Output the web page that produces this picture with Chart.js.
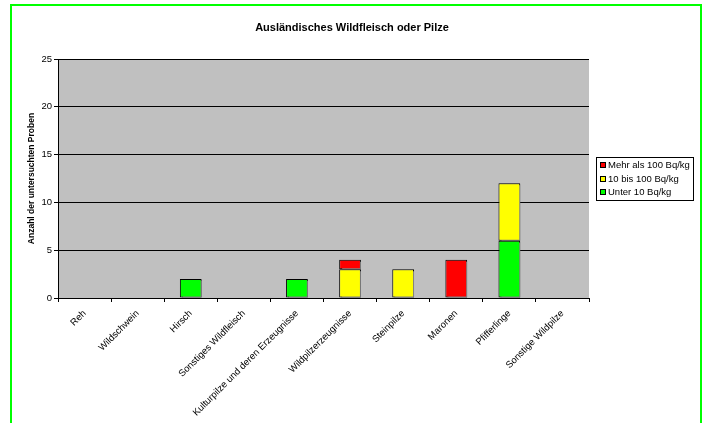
<!DOCTYPE html>
<html>
<head>
<meta charset="utf-8">
<script src="https://cdn.jsdelivr.net/npm/chart.js@4.4.1/dist/chart.umd.min.js"></script>
<style>
  body { margin: 0; background: #fff; }
  canvas { display: block; }
</style>
</head>
<body>
<canvas id="chart" width="704" height="423"></canvas>
<script>
  // Probenzahlen je Kategorie, gestapelt nach Aktivitaetsklasse
  var categories = ['Reh', 'Wildschwein', 'Hirsch', 'Sonstiges Wildfleisch',
    'Kulturpilze und deren Erzeugnisse', 'Wildpilzerzeugnisse', 'Steinpilze',
    'Maronen', 'Pfifferlinge', 'Sonstige Wildpilze'];
  var unter10 = [0, 0, 2, 0, 2, 0, 0, 0, 6, 0];
  var von10bis100 = [0, 0, 0, 0, 0, 3, 3, 0, 6, 0];
  var ueber100 = [0, 0, 0, 0, 0, 1, 0, 4, 0, 0];
  var yTicks = [0, 5, 10, 15, 20, 25];

  var FONT = "'Liberation Sans', Arial, sans-serif";
  Chart.defaults.font.family = FONT;
  Chart.defaults.color = '#000';

  // green frame round the whole chart + grey plot area
  var frame = {
    id: 'frame',
    beforeDraw: function (chart) {
      var ctx = chart.ctx, a = chart.chartArea;
      ctx.save();
      ctx.strokeStyle = '#00ff00';
      ctx.lineWidth = 2;
      ctx.strokeRect(11, 5, 690, 500);
      ctx.fillStyle = '#c0c0c0';
      ctx.fillRect(a.left, a.top, a.right - a.left, a.bottom - a.top);
      ctx.restore();
    }
  };

  // grey drop shadow under the bars
  var barShadow = {
    id: 'barShadow',
    beforeDatasetsDraw: function (chart) {
      var ctx = chart.ctx;
      ctx.save();
      ctx.shadowColor = '#808080';
      ctx.shadowOffsetX = 2;
      ctx.shadowOffsetY = 1;
      ctx.shadowBlur = 0;
    },
    afterDatasetsDraw: function (chart) {
      chart.ctx.restore();
    }
  };

  // boxed legend right of the plot, top entry = top of the stack
  var boxLegend = {
    id: 'boxLegend',
    afterDraw: function (chart) {
      var ctx = chart.ctx, a = chart.chartArea;
      var sets = chart.data.datasets.slice().reverse();
      var x = a.right + 7, w = 97, rowH = 13.5, h = 43;
      var y = Math.round((a.top + a.bottom) / 2 - h / 2);
      ctx.save();
      ctx.fillStyle = '#fff';
      ctx.fillRect(x, y, w, h);
      ctx.strokeStyle = '#000';
      ctx.lineWidth = 1;
      ctx.strokeRect(x + 0.5, y + 0.5, w, h);
      ctx.font = '9.5px ' + FONT;
      ctx.textBaseline = 'middle';
      sets.forEach(function (ds, i) {
        var cy = y + 8 + i * rowH;
        ctx.fillStyle = ds.backgroundColor;
        ctx.fillRect(x + 4, Math.round(cy) - 3, 5, 5);
        ctx.strokeRect(x + 4.5, Math.round(cy) - 2.5, 5, 5);
        ctx.fillStyle = '#000';
        ctx.fillText(ds.label, x + 12, cy + 0.5);
      });
      ctx.restore();
    }
  };

  function series(label, values, colour) {
    return {
      label: label,
      data: values,
      backgroundColor: colour,
      borderColor: '#000',
      borderWidth: 1,
      borderSkipped: false,
      categoryPercentage: 1,
      barPercentage: 0.41
    };
  }

  var tickFont = { family: FONT, size: 9.5 };

  new Chart(document.getElementById('chart'), {
    type: 'bar',
    data: {
      labels: categories,
      datasets: [
        series('Unter 10 Bq/kg', unter10, '#00ff00'),
        series('10 bis 100 Bq/kg', von10bis100, '#ffff00'),
        series('Mehr als 100 Bq/kg', ueber100, '#ff0000')
      ]
    },
    options: {
      responsive: false,
      animation: false,
      devicePixelRatio: 1,
      layout: { padding: 0 },
      plugins: {
        legend: { display: false },
        tooltip: { enabled: false },
        title: {
          display: true,
          text: 'Ausländisches Wildfleisch oder Pilze',
          font: { family: FONT, size: 11, weight: 'bold' },
          color: '#000',
          padding: { top: 21.4, bottom: 24.4 }
        }
      },
      scales: {
        x: {
          stacked: true,
          grid: { display: true, drawOnChartArea: false, drawTicks: true, tickLength: 4, color: '#000', offset: true },
          border: { display: true, color: '#000', width: 1 },
          ticks: { autoSkip: false, maxRotation: 45, minRotation: 45, padding: 6, font: tickFont, color: '#000' },
          afterFit: function (scale) { scale.height = 125; }
        },
        y: {
          stacked: true,
          min: 0,
          max: 25,
          grid: { color: '#000', tickLength: 4, drawTicks: true },
          border: { color: '#000' },
          ticks: { padding: 2, font: tickFont, color: '#000' },
          afterBuildTicks: function (scale) {
            scale.ticks = yTicks.map(function (v) { return { value: v }; });
          },
          title: {
            display: true,
            text: 'Anzahl der untersuchten Proben',
            font: { family: FONT, size: 8.5, weight: 'bold' },
            color: '#000',
            padding: { top: 27, bottom: 0 }
          },
          afterFit: function (scale) { scale.width = 58; }
        },
        // keeps room for the legend on the right
        side: {
          position: 'right',
          grid: { display: false },
          border: { display: false },
          ticks: { display: false },
          afterFit: function (scale) { scale.width = 115; }
        }
      }
    },
    plugins: [frame, barShadow, boxLegend]
  });
</script>
</body>
</html>
